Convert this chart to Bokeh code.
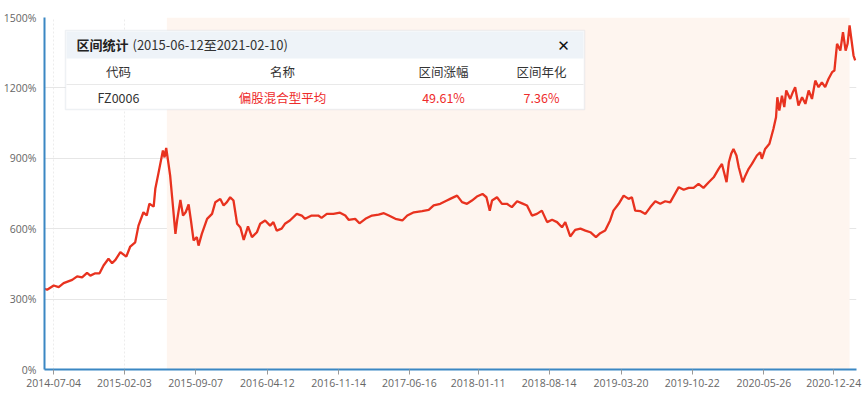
import pandas as pd
from bokeh.plotting import figure
from bokeh.models import (BoxAnnotation, Label, FixedTicker, PrintfTickFormatter,
                          DatetimeTickFormatter, Range1d, ColumnDataSource)
from bokeh.embed import file_html
from bokeh.resources import INLINE

# ---------------- data ----------------
dates = [
    "2014-06-06", "2014-06-14", "2014-07-04", "2014-07-19", "2014-08-03", "2014-08-29",
    "2014-09-13", "2014-09-28", "2014-10-13", "2014-10-23", "2014-11-07", "2014-11-20",
    "2014-12-02", "2014-12-17", "2014-12-28", "2015-01-07", "2015-01-22", "2015-02-09",
    "2015-02-21", "2015-03-08", "2015-03-18", "2015-04-02", "2015-04-12", "2015-04-20",
    "2015-05-03", "2015-05-08", "2015-05-18", "2015-05-25", "2015-05-31", "2015-06-05",
    "2015-06-10", "2015-06-17", "2015-06-22", "2015-06-28", "2015-07-08", "2015-07-13",
    "2015-07-23", "2015-07-31", "2015-08-08", "2015-08-17", "2015-08-24", "2015-09-01",
    "2015-09-11", "2015-09-16", "2015-09-26", "2015-10-12", "2015-10-27", "2015-11-06",
    "2015-11-21", "2015-12-01", "2015-12-11", "2015-12-21", "2015-12-31", "2016-01-11",
    "2016-01-21", "2016-01-31", "2016-02-13", "2016-02-25", "2016-03-11", "2016-03-21",
    "2016-04-05", "2016-04-20", "2016-04-30", "2016-05-10", "2016-05-25", "2016-06-04",
    "2016-06-19", "2016-07-10", "2016-07-25", "2016-08-04", "2016-08-24", "2016-09-13",
    "2016-09-23", "2016-10-09", "2016-10-29", "2016-11-18", "2016-12-04", "2016-12-14",
    "2017-01-03", "2017-01-16", "2017-02-03", "2017-02-23", "2017-03-15", "2017-03-31",
    "2017-04-15", "2017-05-05", "2017-05-26", "2017-06-10", "2017-06-30", "2017-07-25",
    "2017-08-14", "2017-08-29", "2017-09-18", "2017-10-08", "2017-10-18", "2017-11-08",
    "2017-11-23", "2017-12-08", "2017-12-23", "2018-01-07", "2018-01-24", "2018-02-05",
    "2018-02-15", "2018-02-22", "2018-03-09", "2018-03-24", "2018-04-08", "2018-04-23",
    "2018-05-09", "2018-05-24", "2018-06-08", "2018-06-23", "2018-07-08", "2018-07-23",
    "2018-08-08", "2018-08-23", "2018-09-07", "2018-09-22", "2018-10-02", "2018-10-17",
    "2018-11-01", "2018-11-17", "2018-12-02", "2018-12-17", "2019-01-03", "2019-01-16",
    "2019-01-31", "2019-02-15", "2019-02-25", "2019-03-13", "2019-03-28", "2019-04-12",
    "2019-04-22", "2019-05-02", "2019-05-17", "2019-06-02", "2019-06-17", "2019-07-02",
    "2019-07-17", "2019-08-01", "2019-08-16", "2019-09-11", "2019-09-26", "2019-10-11",
    "2019-10-26", "2019-11-10", "2019-11-25", "2019-12-11", "2019-12-26", "2020-01-10",
    "2020-01-20", "2020-02-03", "2020-02-10", "2020-02-17", "2020-02-24", "2020-03-04",
    "2020-03-11", "2020-03-23", "2020-03-31", "2020-04-10", "2020-04-20", "2020-05-05",
    "2020-05-15", "2020-05-20", "2020-05-30", "2020-06-12", "2020-06-24", "2020-07-02",
    "2020-07-06", "2020-07-12", "2020-07-20", "2020-07-27", "2020-08-02", "2020-08-14",
    "2020-08-22", "2020-08-29", "2020-09-08", "2020-09-19", "2020-09-29", "2020-10-09",
    "2020-10-19", "2020-10-29", "2020-11-08", "2020-11-18", "2020-11-28", "2020-12-08",
    "2020-12-19", "2020-12-26", "2021-01-03", "2021-01-13", "2021-01-21", "2021-01-29",
    "2021-02-04", "2021-02-10", "2021-02-16", "2021-02-22", "2021-02-27",
]
values = [
    344, 340, 358, 351, 368, 382,
    397, 393, 412, 400, 410, 410,
    443, 472, 453, 467, 500, 481,
    524, 542, 613, 670, 656, 706,
    694, 770, 840, 890, 933, 904,
    944, 876, 826, 734, 578, 635,
    723, 656, 670, 703, 635, 550,
    564, 528, 578, 642, 663, 713,
    727, 699, 713, 734, 720, 621,
    605, 552, 610, 564, 585, 621,
    635, 613, 628, 592, 600, 621,
    635, 663, 656, 642, 656, 656,
    646, 663, 663, 668, 656, 638,
    642, 623, 642, 656, 660, 666,
    656, 642, 635, 656, 670, 675,
    680, 699, 706, 720, 727, 741,
    713, 706, 720, 737, 748, 734,
    677, 720, 734, 706, 706, 692,
    717, 708, 699, 656, 663, 677,
    628, 638, 628, 606, 628, 567,
    595, 600, 592, 585, 564, 581,
    592, 635, 677, 706, 741, 727,
    734, 677, 675, 663, 692, 717,
    706, 717, 712, 777, 766, 774,
    774, 791, 774, 798, 819, 855,
    876, 798, 883, 919, 940, 912,
    862, 798, 826, 855, 876, 912,
    926, 898, 940, 962, 1025, 1075,
    1160, 1103, 1167, 1118, 1189, 1153,
    1182, 1203, 1125, 1160, 1132, 1189,
    1153, 1231, 1203, 1224, 1203, 1238,
    1267, 1274, 1388, 1359, 1437, 1359,
    1388, 1466, 1402, 1338, 1317,
]
tick_dates = ["2014-07-04", "2015-02-03", "2015-09-07", "2016-04-12", "2016-11-14",
              "2017-06-16", "2018-01-11", "2018-08-14", "2019-03-20", "2019-10-22",
              "2020-05-26", "2020-12-24"]
y_ticks = [0, 300, 600, 900, 1200, 1500]
x_start, x_end = "2014-06-06", "2021-03-03"
interval_start, interval_end = "2015-06-12", "2021-02-10"

title_bold = "区间统计"
title_rest = "(2015-06-12至2021-02-10)"
table_headers = ["代码", "名称", "区间涨幅", "区间年化"]
table_row = ["FZ0006", "偏股混合型平均", "49.61%", "7.36%"]
row_colors = ["#333333", "#ee2b2b", "#ee2b2b", "#ee2b2b"]


def ms(d):
    return pd.Timestamp(d).value / 1e6


src = ColumnDataSource(dict(x=pd.to_datetime(dates), y=values))

p = figure(width=864, height=397, x_axis_type="datetime",
           output_backend="svg", toolbar_location=None,
           x_range=Range1d(ms(x_start), ms(x_end)), y_range=Range1d(0, 1500),
           min_border_left=44, min_border_right=8, min_border_top=17,
           min_border_bottom=28)
p.outline_line_color = None
p.background_fill_color = "white"

# shaded interval
p.add_layout(BoxAnnotation(left=ms(interval_start), right=ms(interval_end),
                           fill_color="#fef5ef", fill_alpha=1.0,
                           line_color=None, level="underlay"))

p.line("x", "y", source=src, line_color="#e8321f", line_width=2.3)

# axes
p.yaxis.ticker = FixedTicker(ticks=y_ticks)
p.yaxis.formatter = PrintfTickFormatter(format="%d%%")
p.xaxis.ticker = FixedTicker(ticks=[ms(d) for d in tick_dates])
fmt = "%Y-%m-%d"
p.xaxis.formatter = DatetimeTickFormatter(days=fmt, months=fmt, years=fmt,
                                          hours=fmt, minutes=fmt)
for ax in (p.xaxis[0], p.yaxis[0]):
    ax.axis_line_color = "#3b87c3"
    ax.axis_line_width = 2
    ax.minor_tick_line_color = None
    ax.minor_tick_out = 0
    ax.minor_tick_in = 0
    ax.major_label_text_font = "Open Sans"
    ax.major_label_text_font_size = "10.5px"
    ax.major_label_text_color = "#666666"
p.yaxis.major_tick_line_color = None
p.yaxis.major_tick_out = 0
p.yaxis.major_tick_in = 0
p.yaxis.major_label_standoff = 8
p.xaxis.major_tick_line_color = "#999999"
p.xaxis.major_tick_out = 5
p.xaxis.major_tick_in = 0
p.xaxis.major_label_standoff = 4

p.ygrid.grid_line_color = "#e6e6e6"
p.xgrid.grid_line_color = "#ececec"
p.xgrid.grid_line_dash = "2 2"

# stats panel (screen units relative to plot frame)
box_l, box_r, box_t, box_b = 21, 540, 339, 260
p.add_layout(BoxAnnotation(left=box_l, right=box_r, top=box_t, bottom=box_b,
                           left_units="screen", right_units="screen",
                           top_units="screen", bottom_units="screen",
                           fill_color="white", fill_alpha=1.0,
                           line_color="#c6d1dc", line_width=1.5))
p.add_layout(BoxAnnotation(left=box_l + 1, right=box_r - 1, top=box_t - 1, bottom=311,
                           left_units="screen", right_units="screen",
                           top_units="screen", bottom_units="screen",
                           fill_color="#eef3f8", fill_alpha=1.0, line_color=None))
p.add_layout(BoxAnnotation(left=box_l + 1, right=box_r - 1, top=285.5, bottom=284.5,
                           left_units="screen", right_units="screen",
                           top_units="screen", bottom_units="screen",
                           fill_color="#e9e9e9", fill_alpha=1.0, line_color=None))

cjk = "Noto Sans CJK SC"
p.add_layout(Label(x=32, y=325, x_units="screen", y_units="screen", text=title_bold,
                   text_font=cjk, text_font_size="13px", text_font_style="bold",
                   text_color="#222222", text_baseline="middle", text_align="left"))
p.add_layout(Label(x=88, y=325, x_units="screen", y_units="screen", text=title_rest,
                   text_font=cjk, text_font_size="13px",
                   text_color="#333333", text_baseline="middle", text_align="left"))
p.add_layout(Label(x=519, y=324, x_units="screen", y_units="screen", text="✕",
                   text_font="DejaVu Sans", text_font_size="15px", text_font_style="bold",
                   text_color="#111111", text_baseline="middle", text_align="center"))

col_x = [74, 238, 399, 497]
for cx, h, v, c in zip(col_x, table_headers, table_row, row_colors):
    p.add_layout(Label(x=cx, y=298, x_units="screen", y_units="screen", text=h,
                       text_font=cjk, text_font_size="12.5px", text_color="#333333",
                       text_baseline="middle", text_align="center"))
    p.add_layout(Label(x=cx, y=272, x_units="screen", y_units="screen", text=v,
                       text_font=cjk, text_font_size="12.5px", text_color=c,
                       text_baseline="middle", text_align="center"))

open("out.html", "w").write(file_html(p, INLINE))
